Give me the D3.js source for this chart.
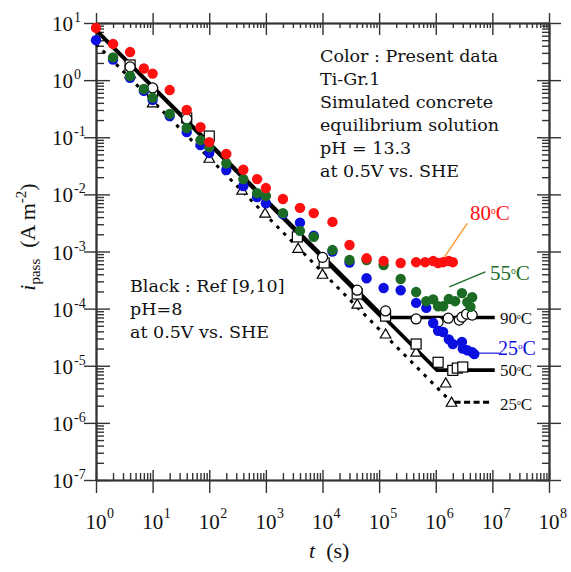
<!DOCTYPE html>
<html>
<head>
<meta charset="utf-8">
<script src="https://cdn.jsdelivr.net/npm/d3@7"></script>
<style>
body { margin: 0; background: #fff; }
text { font-family: "Liberation Serif", "Times New Roman", serif; }
.note { font-family: "DejaVu Serif", serif; }
</style>
</head>
<body>
<script>
'use strict';

// present data, [t (s), i_pass (A m-2)]
var present80 = [[1, 8.2], [2, 4.3], [4, 3.1], [7, 1.6], [10, 1.3], [20, 0.67], [40, 0.30], [70, 0.15],
    [100, 0.082], [200, 0.051], [400, 0.027], [700, 0.0185], [1000, 0.0129], [2000, 0.0083], [4000, 0.0058],
    [7000, 0.0047], [15000, 0.0033], [30000, 0.0013], [60000, 7.6e-4], [120000, 6.8e-4], [240000, 6.3e-4],
    [450000, 6.5e-4], [650000, 6.5e-4], [900000, 6.8e-4], [1.1e6, 6.3e-4], [1.35e6, 6.5e-4], [1.7e6, 6.8e-4],
    [2.0e6, 6.5e-4]];
var present55 = [[2, 2.5], [4, 1.18], [7, 0.70], [10, 0.49], [20, 0.255], [40, 0.145], [70, 0.089],
    [100, 0.067], [200, 0.035], [400, 0.0185], [700, 0.0105], [1000, 0.0094], [2000, 0.0047], [4000, 0.0023],
    [7000, 0.0018], [15000, 0.00106], [30000, 7.1e-4], [60000, 7.1e-4], [120000, 5.8e-4], [240000, 3.3e-4],
    [450000, 1.95e-4], [680000, 1.35e-4], [900000, 1.45e-4], [1.1e6, 1.1e-4], [1.35e6, 1.1e-4],
    [1.7e6, 1.47e-4], [2.2e6, 1.35e-4], [2.9e6, 1.87e-4], [3.6e6, 1.3e-4], [4.1e6, 1.07e-4], [4.4e6, 1.58e-4]];
var present25 = [[1, 5.0], [2, 2.3], [4, 1.1], [7, 0.65], [10, 0.45], [20, 0.235], [40, 0.123], [70, 0.073],
    [100, 0.053], [200, 0.0267], [400, 0.014], [700, 0.009], [1000, 0.007], [2000, 0.0045], [4000, 0.0032],
    [7000, 0.0019], [15000, 0.001], [30000, 6.4e-4], [60000, 3.4e-4], [120000, 2.3e-4], [240000, 2.1e-4],
    [450000, 1.26e-4], [680000, 1.03e-4], [900000, 5.6e-5], [1.1e6, 4.1e-5], [1.35e6, 3.9e-5], [1.7e6, 2.9e-5],
    [2.0e6, 2.4e-5], [2.9e6, 2.6e-5], [3.0e6, 2.0e-5], [3.6e6, 1.87e-5], [4.4e6, 1.73e-5], [4.8e6, 1.6e-5]];

// reference data (black)
var ref90 = [[4, 1.7], [10, 0.73], [40, 0.21], [10000, 7.9e-4], [41000, 2.1e-4], [130000, 9.1e-5],
    [450000, 6.6e-5], [1.1e6, 5.8e-5], [1.66e6, 6.8e-5], [2.6e6, 6.3e-5], [2.9e6, 7.1e-5], [3.5e6, 8.0e-5],
    [4.4e6, 7.7e-5]];
var ref50 = [[4, 1.84], [10, 0.62], [40, 0.217], [100, 0.105], [3600, 0.0018], [10700, 6.3e-4],
    [41000, 1.8e-4], [130000, 7.4e-5], [450000, 2.4e-5], [1.1e6, 1.15e-5], [2.0e6, 8.3e-6], [2.4e6, 9.1e-6],
    [3.0e6, 9.5e-6]];
var ref25 = [[4, 1.3], [10, 0.40], [100, 0.043], [380, 0.0119], [970, 0.0047], [3700, 0.00114],
    [10000, 4.0e-4], [41000, 1.2e-4], [130000, 3.6e-5], [450000, 1.73e-5], [1.5e6, 5.0e-6], [1.9e6, 2.3e-6]];

var refLine90 = [[1, 7.5], [1.12e5, 7.0e-5], [1.1e7, 7.0e-5]];
var refLine50 = [[1, 7.5], [1.05e6, 8.4e-6], [1.1e7, 8.4e-6]];
var refLine25Slope = [[1, 4.3], [1.9e6, 2.3e-6]];
var refLine25Flat = [[2.15e6, 2.3e-6], [1.0e7, 2.3e-6]];

// callout lines
var callout80 = [[1.35e6, 7.4e-4], [3.6e6, 3.1e-3]];
var callout55 = [[1.73e6, 2.4e-4], [7.5e6, 4.4e-4]];
var callout25 = [[5.2e6, 1.66e-5], [1.32e7, 1.66e-5]];

var xExponents = [0, 1, 2, 3, 4, 5, 6, 7, 8];
var yExponents = [1, 0, -1, -2, -3, -4, -5, -6, -7];

var myChart = {};
myChart.width = 571;
myChart.height = 572;
myChart.left = 96;
myChart.right = 549;
myChart.top = 23;
myChart.bottom = 480;
myChart.axisColor = "#333";

myChart.x = d3.scaleLog().domain([1, 1e8]).range([myChart.left, myChart.right]);
myChart.y = d3.scaleLog().domain([1e-7, 10]).range([myChart.bottom, myChart.top]);

myChart.minorTicks = function(exps){
    var lo = d3.min(exps), hi = d3.max(exps);
    var out = [];
    for (var e = lo; e < hi; e++) {
        for (var m = 2; m < 10; m++) {
            out.push(m * Math.pow(10, e));
        }
    }
    return out;
}

myChart.styleAxis = function(g){
    g.selectAll("path").attr("stroke", myChart.axisColor).attr("stroke-width", 1.6);
    g.selectAll("line").attr("stroke", myChart.axisColor).attr("stroke-width", 1.4);
    g.selectAll("text").remove();
}

myChart.appendAxes = function(svg){
    var x = myChart.x, y = myChart.y;
    var xMajor = xExponents.map(function(e){ return Math.pow(10, e); });
    var yMajor = yExponents.map(function(e){ return Math.pow(10, e); });
    var xMinor = myChart.minorTicks(xExponents);
    var yMinor = myChart.minorTicks(yExponents);

    var specs = [
        // bottom
        [d3.axisBottom(x).tickValues(xMajor).tickSize(13), 0, myChart.bottom],
        [d3.axisBottom(x).tickValues(xMajor).tickSize(-10), 0, myChart.bottom],
        [d3.axisBottom(x).tickValues(xMinor).tickSize(-7), 0, myChart.bottom],
        // top
        [d3.axisTop(x).tickValues(xMajor).tickSize(10), 0, myChart.top],
        [d3.axisTop(x).tickValues(xMajor).tickSize(-12), 0, myChart.top],
        [d3.axisTop(x).tickValues(xMinor).tickSize(-5), 0, myChart.top],
        // left
        [d3.axisLeft(y).tickValues(yMajor).tickSize(12), myChart.left, 0],
        [d3.axisLeft(y).tickValues(yMajor).tickSize(-14), myChart.left, 0],
        [d3.axisLeft(y).tickValues(yMinor).tickSize(-8), myChart.left, 0],
        // right
        [d3.axisRight(y).tickValues(yMajor).tickSize(12), myChart.right, 0],
        [d3.axisRight(y).tickValues(yMajor).tickSize(-12), myChart.right, 0],
        [d3.axisRight(y).tickValues(yMinor).tickSize(-7), myChart.right, 0]
    ];

    specs.forEach(function(s){
        var g = svg.append("g")
            .attr("transform", "translate(" + s[1] + "," + s[2] + ")")
            .call(s[0].tickSizeOuter(0));
        myChart.styleAxis(g);
    });

    // x tick labels
    var xl = svg.append("g").attr("fill", "#111");
    xExponents.forEach(function(e){
        var px = x(Math.pow(10, e));
        xl.append("text").attr("x", px).attr("y", 529)
            .attr("text-anchor", "middle").attr("font-size", 21).text("10");
        xl.append("text").attr("x", px + 11).attr("y", 518)
            .attr("font-size", 14).text(e);
    });

    // y tick labels
    var yl = svg.append("g").attr("fill", "#111");
    yExponents.forEach(function(e){
        var py = y(Math.pow(10, e));
        yl.append("text").attr("x", 73).attr("y", py + 8)
            .attr("text-anchor", "end").attr("font-size", 21).text("10");
        yl.append("text").attr("x", 74).attr("y", py - 1)
            .attr("font-size", 14).text(e);
    });

    // axis titles
    var xt = svg.append("text").attr("x", 309).attr("y", 558).attr("font-size", 22).attr("fill", "#111");
    xt.append("tspan").attr("font-style", "italic").text("t");
    xt.append("tspan").text("\u2002(s)");

    var yt = svg.append("text")
        .attr("transform", "translate(35,237) rotate(-90)")
        .attr("text-anchor", "middle").attr("font-size", 22).attr("fill", "#111");
    yt.append("tspan").attr("font-style", "italic").text("i");
    yt.append("tspan").attr("font-size", 15).attr("dy", 5).text("pass");
    yt.append("tspan").attr("dy", -5).text("\u2002(A m");
    yt.append("tspan").attr("font-size", 15).attr("dy", -9).text("-2");
    yt.append("tspan").attr("dy", 9).text(")");
}

myChart.appendLines = function(svg){
    var line = d3.line()
        .x(function(d){ return myChart.x(d[0]); })
        .y(function(d){ return myChart.y(d[1]); });

    [refLine90, refLine50].forEach(function(data){
        svg.append("path").datum(data)
            .attr("d", line).attr("fill", "none")
            .attr("stroke", "#000").attr("stroke-width", 3.6)
            .attr("stroke-linejoin", "miter");
    });
    svg.append("path").datum(refLine25Slope)
        .attr("d", line).attr("fill", "none")
        .attr("stroke", "#000").attr("stroke-width", 3)
        .attr("stroke-dasharray", "3.5,6");
    svg.append("path").datum(refLine25Flat)
        .attr("d", line).attr("fill", "none")
        .attr("stroke", "#000").attr("stroke-width", 3)
        .attr("stroke-dasharray", "6,3.5");

    [[callout80, "#ff9022"], [callout55, "#1b6b25"], [callout25, "#2a2ae0"]].forEach(function(c){
        svg.append("path").datum(c[0])
            .attr("d", line).attr("fill", "none")
            .attr("stroke", c[1]).attr("stroke-width", 1.3);
    });
}

myChart.appendRefMarkers = function(svg){
    var x = myChart.x, y = myChart.y;

    svg.selectAll(".ref25").data(ref25).enter()
        .append("path").classed("ref25", true)
        .attr("d", d3.symbol().type(d3.symbolTriangle).size(48))
        .attr("transform", function(d){ return "translate(" + x(d[0]) + "," + (y(d[1]) + 1) + ")"; })
        .attr("fill", "#fff").attr("stroke", "#000").attr("stroke-width", 1.2);

    svg.selectAll(".ref50").data(ref50).enter()
        .append("rect").classed("ref50", true)
        .attr("x", function(d){ return x(d[0]) - 5; })
        .attr("y", function(d){ return y(d[1]) - 5; })
        .attr("width", 10).attr("height", 10)
        .attr("fill", "#fff").attr("stroke", "#000").attr("stroke-width", 1.2);

    svg.selectAll(".ref90").data(ref90).enter()
        .append("circle").classed("ref90", true)
        .attr("cx", function(d){ return x(d[0]); })
        .attr("cy", function(d){ return y(d[1]); })
        .attr("r", 5)
        .attr("fill", "#fff").attr("stroke", "#000").attr("stroke-width", 1.2);
}

myChart.appendPresent = function(svg){
    var x = myChart.x, y = myChart.y;
    [[present25, "#0b10e0"], [present55, "#1b6b25"], [present80, "#ff1010"]].forEach(function(s){
        svg.append("g").selectAll("circle").data(s[0]).enter()
            .append("circle")
            .attr("cx", function(d){ return x(d[0]); })
            .attr("cy", function(d){ return y(d[1]); })
            .attr("r", 5.2)
            .attr("fill", s[1]);
    });
}

myChart.appendNotes = function(svg){
    var block = function(lines, x0, y0, step){
        var g = svg.append("g").attr("font-size", 17.5).attr("fill", "#111");
        lines.forEach(function(t, i){
            g.append("text").classed("note", true)
                .attr("x", x0).attr("y", y0 + i * step).text(t);
        });
    };
    block(["Color : Present data", "Ti-Gr.1", "Simulated concrete",
           "equilibrium solution", "pH = 13.3", "at 0.5V vs. SHE"], 320, 62, 23);
    block(["Black : Ref [9,10]", "pH=8", "at 0.5V vs. SHE"], 130, 292, 23);

    var labels = [
        ["80", 470, 220, "#ff1010", 21],
        ["55", 490, 280, "#1b6b25", 21],
        ["90", 500, 324, "#111", 17],
        ["25", 498, 355, "#0b10e0", 20],
        ["50", 500, 376, "#111", 17],
        ["25", 500, 410, "#111", 17]
    ];
    labels.forEach(function(l){
        var t = svg.append("text").attr("x", l[1]).attr("y", l[2])
            .attr("fill", l[3]).attr("font-size", l[4]);
        t.append("tspan").text(l[0]);
        t.append("tspan").attr("font-size", l[4] * 0.45).attr("dy", -l[4] * 0.3).text("o");
        t.append("tspan").attr("dy", l[4] * 0.3).text("C");
    });
}

myChart.run = function(){
    var svg = d3.select("body").append("svg")
        .attr("width", myChart.width)
        .attr("height", myChart.height);
    myChart.appendAxes(svg);
    myChart.appendLines(svg);
    myChart.appendRefMarkers(svg);
    myChart.appendPresent(svg);
    myChart.appendNotes(svg);
}

window.onload = myChart.run;
</script>
</body>
</html>
